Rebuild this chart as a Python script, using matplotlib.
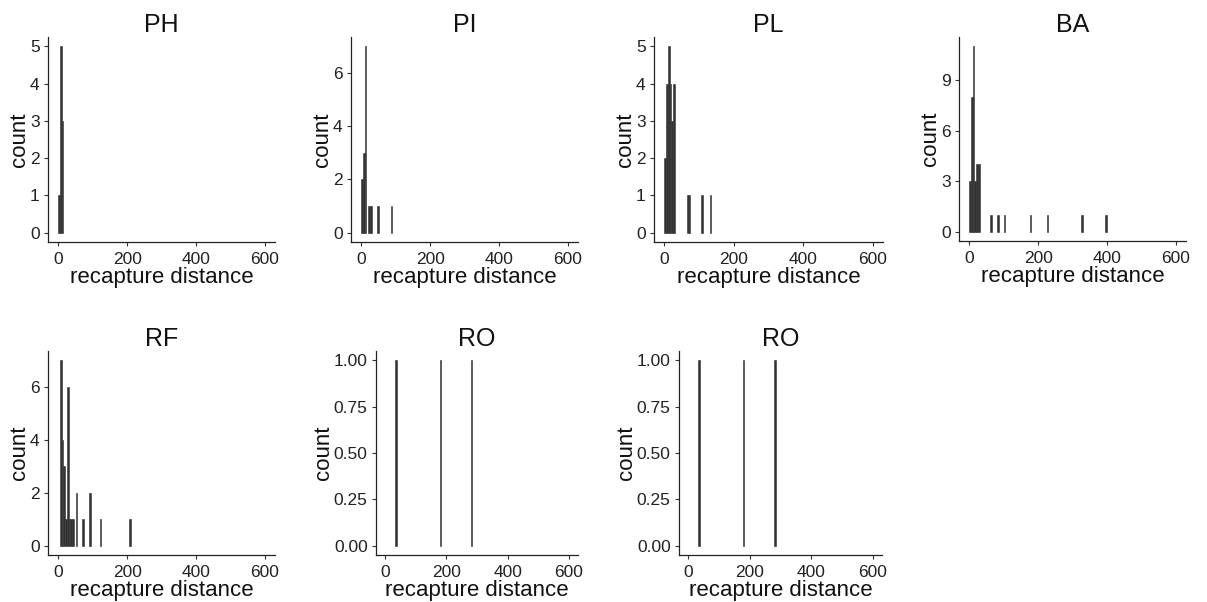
import numpy as np
import matplotlib
matplotlib.use("Agg")
import matplotlib.pyplot as plt
from matplotlib.ticker import FormatStrFormatter

plt.rcParams['font.family'] = ['Liberation Sans', 'DejaVu Sans']

BIN_WIDTH = 5

# bin midpoints (recapture distance) and counts
ph_mid = [2.5, 7.5, 12.5]
ph_n = [1, 5, 3]

pi_mid = [2.5, 7.5, 12.5, 22.5, 27.5, 47.5, 87.5]
pi_n = [2, 3, 7, 1, 1, 1, 1]

pl_mid = [2.5, 7.5, 12.5, 17.5, 22.5, 27.5, 67.5, 72.5, 107.5, 132.5]
pl_n = [2, 4, 5, 4, 3, 4, 1, 1, 1, 1]

ba_mid = [2.5, 7.5, 12.5, 17.5, 22.5, 27.5, 62.5, 82.5, 102.5, 177.5, 227.5, 327.5, 397.5]
ba_n = [3, 8, 11, 3, 4, 4, 1, 1, 1, 1, 1, 1, 1]

rf_mid = [7.5, 12.5, 17.5, 22.5, 27.5, 32.5, 37.5, 42.5, 52.5, 72.5, 92.5, 122.5, 207.5]
rf_n = [7, 4, 3, 1, 6, 1, 1, 1, 2, 1, 2, 1, 1]

ro_mid = [35, 180, 282.5]
ro_n = [1, 1, 1]

titles = ['PH', 'PI', 'PL', 'BA', 'RF', 'RO', 'RO']
mids = [ph_mid, pi_mid, pl_mid, ba_mid, rf_mid, ro_mid, ro_mid]
counts = [ph_n, pi_n, pl_n, ba_n, rf_n, ro_n, ro_n]
yticks = [[0, 1, 2, 3, 4, 5], [0, 2, 4, 6], [0, 1, 2, 3, 4, 5], [0, 3, 6, 9],
          [0, 2, 4, 6], [0, 0.25, 0.5, 0.75, 1.0], [0, 0.25, 0.5, 0.75, 1.0]]

# panel boxes in pixels: left, right, top, bottom
W, H = 1207, 602
boxes = [(48, 275, 37, 242), (351, 578, 37, 242), (654, 883, 37, 242), (959, 1186, 37, 241),
         (48, 275, 351, 555), (376, 578, 351, 555), (679, 882, 351, 555)]

fig = plt.figure(figsize=(W / 100, H / 100), dpi=100)

for i in range(len(titles)):
    l, r, t, b = boxes[i]
    ax = fig.add_axes([l / W, 1 - b / H, (r - l) / W, (b - t) / H])
    ax.bar(mids[i], counts[i], width=BIN_WIDTH, align='center', color='#333333',
           edgecolor='#333333', linewidth=0.4)
    ymax = max(counts[i])
    ax.set_ylim(-0.05 * ymax, 1.05 * ymax)
    ax.set_xlim(-30, 630)
    ax.set_xticks([0, 200, 400, 600])
    ax.set_yticks(yticks[i])
    if i >= 5:
        ax.yaxis.set_major_formatter(FormatStrFormatter('%.2f'))
    ax.spines['top'].set_visible(False)
    ax.spines['right'].set_visible(False)
    for s in ['left', 'bottom']:
        ax.spines[s].set_color('#222222')
        ax.spines[s].set_linewidth(0.9)
    ax.tick_params(length=3, width=0.8, color='#333333', labelsize=12.5, labelcolor='#222222', pad=3)
    ax.tick_params(axis='x', pad=4)
    ax.set_title(titles[i], fontsize=18, pad=2.5, color='#111111')
    ax.set_xlabel('recapture distance', fontsize=16, labelpad=0, color='#111111')
    ax.set_ylabel('count', fontsize=16, labelpad=0, color='#111111')

plt.savefig('out.png', dpi=100)
